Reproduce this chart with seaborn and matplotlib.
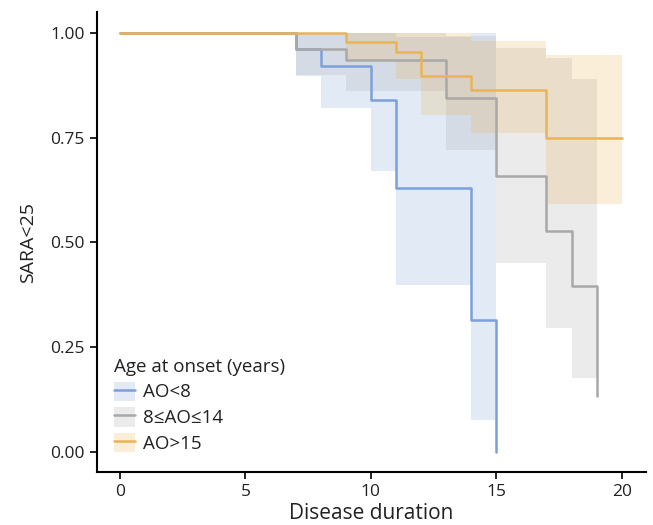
import numpy as np
import pandas as pd
import matplotlib
matplotlib.use("Agg")
import matplotlib.pyplot as plt
from matplotlib.patches import Patch
from matplotlib.lines import Line2D
from matplotlib.legend_handler import HandlerTuple
import seaborn as sns

# ---- data ----
groups = ["AO<8", "8≤AO≤14", "AO>15"]
colors = ["#7ba0da", "#a8a8a8", "#e9b456"]

ao8_time = [0, 7, 8, 10, 11, 14, 15]
ao8_surv = [1.0, 0.963, 0.921, 0.839, 0.629, 0.315, 0.0]
ao8_lower = [1.0, 0.898, 0.821, 0.671, 0.399, 0.075, 0.0]
ao8_upper = [1.0, 1.0, 1.0, 1.0, 0.99, 1.0, 0.0]

ao814_time = [0, 7, 9, 13, 15, 17, 18, 19]
ao814_surv = [1.0, 0.962, 0.936, 0.846, 0.659, 0.527, 0.396, 0.134]
ao814_lower = [1.0, 0.90, 0.862, 0.72, 0.45, 0.296, 0.177, 0.134]
ao814_upper = [1.0, 1.0, 1.0, 0.994, 0.965, 0.94, 0.89, 0.134]

ao15_time = [0, 9, 11, 12, 14, 17, 20]
ao15_surv = [1.0, 0.978, 0.954, 0.897, 0.864, 0.749, 0.749]
ao15_lower = [1.0, 0.935, 0.89, 0.804, 0.761, 0.592, 0.592]
ao15_upper = [1.0, 1.0, 1.0, 1.0, 0.98, 0.948, 0.948]

x_ticks = [0, 5, 10, 15, 20]
y_ticks = [0.0, 0.25, 0.5, 0.75, 1.0]

series = [
    (ao8_time, ao8_surv, ao8_lower, ao8_upper),
    (ao814_time, ao814_surv, ao814_lower, ao814_upper),
    (ao15_time, ao15_surv, ao15_lower, ao15_upper),
]

frames = []
for g, (t, s, lo, up) in zip(groups, series):
    frames.append(pd.DataFrame({"time": t, "surv": s, "lower": lo,
                                "upper": up, "group": g}))
df = pd.concat(frames, ignore_index=True)

# ---- style ----
sns.set_style("white")
plt.rcParams["font.family"] = ["Open Sans", "DejaVu Sans"]
plt.rcParams["axes.linewidth"] = 1.5

fig = plt.figure(figsize=(6.53, 5.25), dpi=100)
ax = fig.add_axes([0.1485, 0.101, 0.8405, 0.876])

# confidence bands
for g, c in zip(groups, colors):
    sub = df[df["group"] == g]
    ax.fill_between(sub["time"], sub["lower"], sub["upper"], step="post",
                    color=c, alpha=0.22, linewidth=0)

# survival curves
sns.lineplot(data=df, x="time", y="surv", hue="group", hue_order=groups,
             palette=dict(zip(groups, colors)), drawstyle="steps-post",
             estimator=None, sort=False, linewidth=1.8, legend=False, ax=ax)

ax.set_xlim(-0.92, 20.96)
ax.set_ylim(-0.048, 1.05)
ax.set_xticks(x_ticks)
ax.set_yticks(y_ticks)
ax.set_yticklabels([f"{v:.2f}" for v in y_ticks])
ax.tick_params(axis="both", which="major", labelsize=12.5, length=5,
               width=1.2, color="black", labelcolor="#222222", pad=4,
               direction="out", left=True, bottom=True)
for side in ["top", "right"]:
    ax.spines[side].set_visible(False)
for side in ["left", "bottom"]:
    ax.spines[side].set_color("black")
ax.set_xlabel("Disease duration", fontsize=15, color="#222222", labelpad=2)
ax.set_ylabel("SARA<25", fontsize=14, color="#222222", labelpad=9)

handles = [(Patch(facecolor=c, alpha=0.22, edgecolor="none"),
            Line2D([], [], color=c, linewidth=1.8)) for c in colors]
leg = ax.legend(handles, groups, title="Age at onset (years)",
                handler_map={tuple: HandlerTuple(ndivide=1, pad=0)},
                loc="lower left", bbox_to_anchor=(0.017, 0.025), frameon=False,
                fontsize=13.5, title_fontsize=13.5, handlelength=1.12,
                handleheight=1.2, labelspacing=0.31, handletextpad=0.43,
                borderaxespad=0.0)
leg._legend_box.align = "left"
for t in leg.get_texts():
    t.set_color("#222222")
leg.get_title().set_color("#222222")

fig.savefig("out.png", dpi=100)
